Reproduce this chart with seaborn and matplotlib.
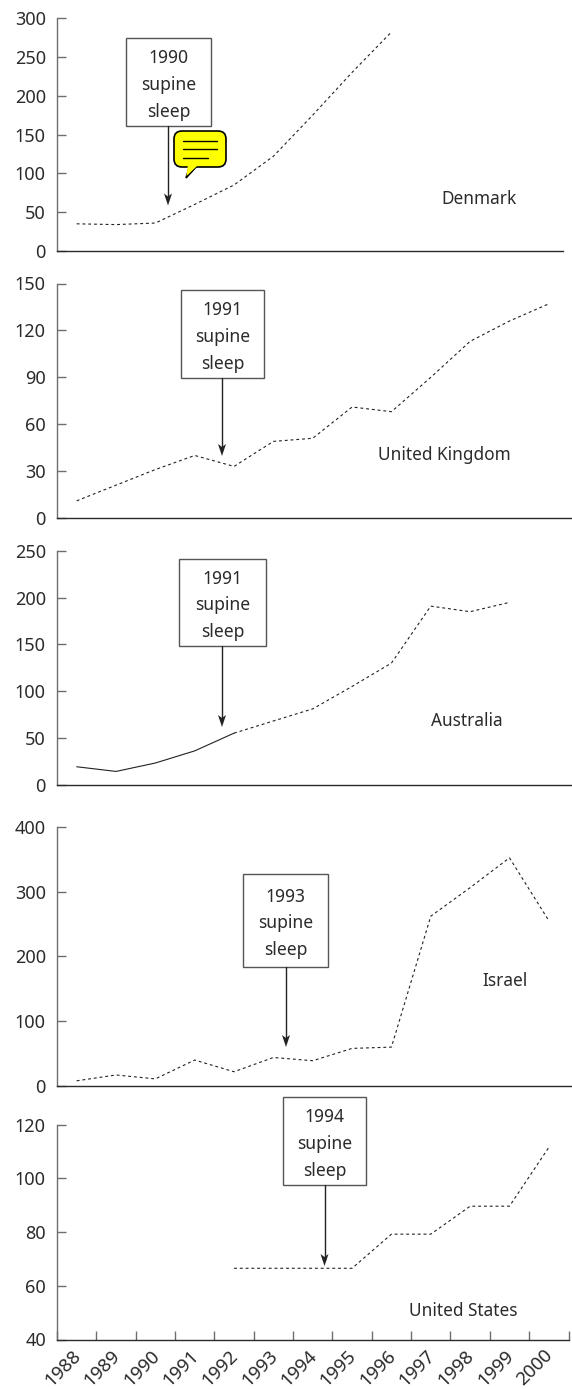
import numpy as np
import pandas as pd
import seaborn as sns
from matplotlib import pyplot as plt
from matplotlib.patches import Rectangle, FancyBboxPatch, Polygon
from matplotlib.lines import Line2D
from matplotlib.transforms import Affine2D, ScaledTranslation

# Data
years = list(range(1988, 2001))
denmark_years = [1988, 1989, 1990, 1991, 1992, 1993, 1994, 1995, 1996]
denmark_vals = [35, 34, 36, 60, 85, 122, 175, 230, 282]
uk_vals = [11, 21, 31, 40, 33, 49, 51, 71, 68, 90, 113, 126, 137]
aus_solid_years = [1988, 1989, 1990, 1991, 1992]
aus_solid_vals = [19, 14, 23, 36, 55]
aus_dash_years = [1992, 1993, 1994, 1995, 1996, 1997, 1998, 1999]
aus_dash_vals = [55, 68, 81, 105, 130, 191, 185, 195]
israel_vals = [8, 17, 11, 40, 22, 44, 39, 58, 60, 262, 306, 352, 255]
us_years = [1992, 1993, 1994, 1995, 1996, 1997, 1998, 1999, 2000]
us_vals = [66.5, 66.5, 66.5, 66.5, 79.2, 79.2, 89.6, 89.6, 111.5]

W, H = 572, 1389
LEFT, RIGHT = 57, 568.5
dark = '#2b2b2b'
gray = '#6e6e6e'
FS = 12.6

sns.set_theme(style='white')
plt.rcParams['font.family'] = ['Noto Sans', 'DejaVu Sans']

fig = plt.figure(figsize=(W / 100, H / 100), dpi=100)
# figure coordinates in pixels, origin top left like the reference
px = Affine2D().scale(1, -1).translate(0, H) + Affine2D().scale(1 / W, 1 / H) + fig.transFigure


def make_axes(top, bottom, ymin, ymax, step):
    ax = fig.add_axes([LEFT / W, 1 - bottom / H, (RIGHT - LEFT) / W, (bottom - top) / H])
    ax.set_xlim(1987.5, 2000.5)
    ax.set_ylim(ymin, ymax)
    ax.set_yticks(np.arange(ymin, ymax + 1, step))
    ax.tick_params(axis='y', direction='in', length=6.5, width=1, color=gray,
                   left=True, labelsize=13, labelcolor=dark, pad=8)
    ax.set_xticks([])
    ax.spines['top'].set_visible(False)
    ax.spines['right'].set_visible(False)
    ax.spines['left'].set_color(gray)
    ax.spines['left'].set_linewidth(1)
    ax.spines['bottom'].set_color(dark)
    ax.spines['bottom'].set_linewidth(1)
    ax.patch.set_alpha(0)
    return ax


def draw(ax, x, y, style='dash'):
    df = pd.DataFrame({'year': x, 'rate': y})
    ls = (0, (2.6, 2.6)) if style == 'dash' else '-'
    sns.lineplot(df, x='year', y='rate', ax=ax, color='#222222', linewidth=0.8,
                 linestyle=ls, legend=False)
    ax.set_xlabel('')
    ax.set_ylabel('')


def callout(label, box, arrow_x, arrow_end):
    l, t, r, b = box
    fig.add_artist(Rectangle((l, t), r - l, b - t, transform=px, fc='white', ec='#555555', lw=1))
    fig.text(0, 0, label, transform=Affine2D().translate((l + r) / 2, (t + b) / 2 + 3) + px,
             ha='center', va='center', fontsize=FS, color=dark, linespacing=1.64)
    fig.add_artist(Line2D([arrow_x, arrow_x], [b, arrow_end - 6], transform=px, color='#222222', lw=1))
    fig.add_artist(Polygon([(arrow_x - 4, arrow_end - 12), (arrow_x, arrow_end - 9), (arrow_x + 4, arrow_end - 12),
                            (arrow_x, arrow_end)], transform=px, fc='#222222', ec='none'))


def country(name, cx, cy):
    fig.text(0, 0, name, transform=Affine2D().translate(cx, cy + 1.5) + px,
             ha='center', va='center', fontsize=12.4, color=dark)


ax1 = make_axes(18, 251, 0, 300, 50)
draw(ax1, denmark_years, denmark_vals)
ax1.spines['bottom'].set_bounds(1987.5, 2000.36)
ax2 = make_axes(283.5, 518, 0, 150, 30)
draw(ax2, years, uk_vals)
ax3 = make_axes(551, 784.5, 0, 250, 50)
draw(ax3, aus_solid_years, aus_solid_vals, style='solid')
draw(ax3, aus_dash_years, aus_dash_vals)
ax4 = make_axes(826.7, 1086, 0, 400, 100)
draw(ax4, years, israel_vals)
ax5 = make_axes(1124.5, 1339.5, 40, 120, 20)
draw(ax5, us_years, us_vals)
# the upper rules run on to the edge of the picture
for ax in [ax2, ax3, ax4]:
    ax.spines['bottom'].set_bounds(1987.5, 2000.62)

# bottom axis: ticks between the years, labels centred on them
ax5.set_xticks(np.arange(1987.5, 2001), minor=False)
ax5.set_xticklabels([])
ax5.tick_params(axis='x', which='major', direction='in', length=6.5, width=1, color=gray, bottom=True)
ax5.set_xticks(np.array(years), minor=True)
ax5.set_xticklabels([str(y) for y in years], minor=True, rotation=45, ha='right',
                    rotation_mode='anchor', fontsize=13.5, color=dark)
ax5.tick_params(axis='x', which='minor', length=0, pad=5)
shift = ScaledTranslation(-5 / 100, 0, fig.dpi_scale_trans)
for lab in ax5.get_xticklabels(minor=True):
    lab.set_transform(lab.get_transform() + shift)

callout('1990\nsupine\nsleep', (126, 38, 211, 125.5), 168, 205.5)
callout('1991\nsupine\nsleep', (181, 290, 264, 378), 222, 456)
callout('1991\nsupine\nsleep', (179.3, 559, 265.5, 646), 222, 727)
callout('1993\nsupine\nsleep', (243, 874, 328, 967), 286, 1047)
callout('1994\nsupine\nsleep', (283, 1097, 366, 1185), 324.5, 1266)

country('Denmark', 479, 197)
country('United Kingdom', 444, 453)
country('Australia', 467, 720)
country('Israel', 505, 979)
country('United States', 463, 1309)

# yellow comment bubble sitting on the first panel
fig.add_artist(Polygon([(190, 165), (186, 178), (197, 166)], transform=px, fc='#ffff00', ec='black', lw=1.2))
fig.add_artist(FancyBboxPatch((179, 136), 42, 26, boxstyle='round,pad=5,rounding_size=8', transform=px,
                              fc='#ffff00', ec='black', lw=1.2))
fig.add_artist(Polygon([(188, 164), (186.5, 176), (197, 166)], transform=px, fc='#ffff00', ec='none'))
for lx, ly in [(217, 141), (217, 149), (208, 157.5)]:
    fig.add_artist(Line2D([183, lx], [ly, ly], transform=px, color='black', lw=1))

fig.savefig('out.png', dpi=100)
